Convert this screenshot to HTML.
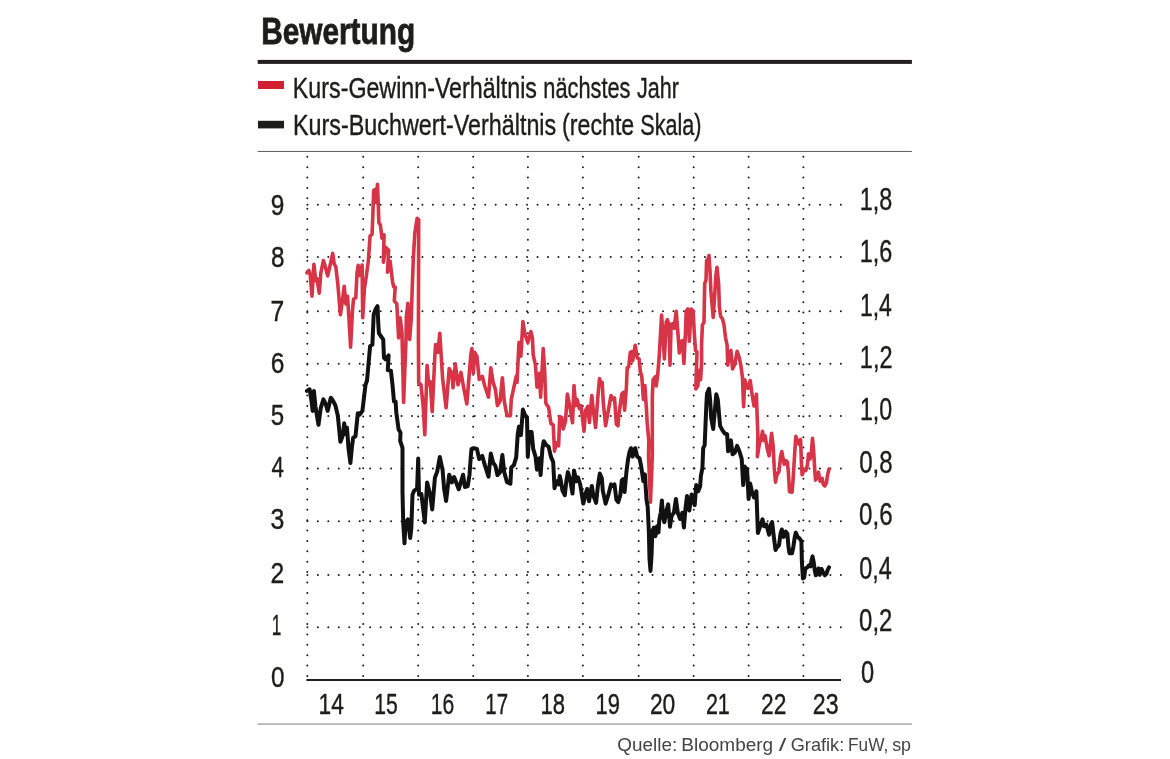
<!DOCTYPE html>
<html lang="de"><head><meta charset="utf-8"><title>Bewertung</title>
<style>html,body{margin:0;padding:0;background:#fff}body{width:1170px;height:759px;overflow:hidden}svg{display:block}text{font-family:"Liberation Sans",sans-serif}</style></head><body>
<svg width="1170" height="759" viewBox="0 0 1170 759">
<rect width="1170" height="759" fill="#fff"/>
<text x="261.18" y="43.70" font-size="37" font-weight="700" fill="#1d1d1b" textLength="153.93" lengthAdjust="spacingAndGlyphs" stroke="#1d1d1b" stroke-width="0.8">Bewertung</text>
<rect x="257.7" y="59.9" width="654.2" height="4" fill="#231f20"/>
<rect x="258" y="81" width="26" height="8" fill="#d22030"/>
<rect x="258" y="120.8" width="26" height="7.6" fill="#1d1d1b"/>
<text x="292.87" y="97.70" font-size="29.5" fill="#1d1d1b" textLength="244.09" lengthAdjust="spacingAndGlyphs" stroke="#1d1d1b" stroke-width="0.4">Kurs-Gewinn-Verhältnis</text>
<text x="543.34" y="97.70" font-size="29.5" fill="#1d1d1b" textLength="87.15" lengthAdjust="spacingAndGlyphs" stroke="#1d1d1b" stroke-width="0.4">nächstes</text>
<text x="636.92" y="97.70" font-size="29.5" fill="#1d1d1b" textLength="41.89" lengthAdjust="spacingAndGlyphs" stroke="#1d1d1b" stroke-width="0.4">Jahr</text>
<text x="293.05" y="135.40" font-size="29.5" fill="#1d1d1b" textLength="263.16" lengthAdjust="spacingAndGlyphs" stroke="#1d1d1b" stroke-width="0.4">Kurs-Buchwert-Verhältnis</text>
<text x="562.07" y="135.40" font-size="29.5" fill="#1d1d1b" textLength="72.19" lengthAdjust="spacingAndGlyphs" stroke="#1d1d1b" stroke-width="0.4">(rechte</text>
<text x="640.21" y="135.40" font-size="29.5" fill="#1d1d1b" textLength="61.35" lengthAdjust="spacingAndGlyphs" stroke="#1d1d1b" stroke-width="0.4">Skala)</text>
<rect x="257.7" y="150.95" width="654.2" height="0.9" fill="#4a4a4a"/>
<path d="M307.30 156.8V676.5" stroke="#1d1d1b" stroke-width="2.0" stroke-linecap="round" fill="none" stroke-dasharray="0 10.383"/>
<path d="M363.20 156.8V676.5" stroke="#1d1d1b" stroke-width="2.0" stroke-linecap="round" fill="none" stroke-dasharray="0 10.383"/>
<path d="M418.20 156.8V676.5" stroke="#1d1d1b" stroke-width="2.0" stroke-linecap="round" fill="none" stroke-dasharray="0 10.383"/>
<path d="M473.20 156.8V676.5" stroke="#1d1d1b" stroke-width="2.0" stroke-linecap="round" fill="none" stroke-dasharray="0 10.383"/>
<path d="M527.90 156.8V676.5" stroke="#1d1d1b" stroke-width="2.0" stroke-linecap="round" fill="none" stroke-dasharray="0 10.383"/>
<path d="M582.90 156.8V676.5" stroke="#1d1d1b" stroke-width="2.0" stroke-linecap="round" fill="none" stroke-dasharray="0 10.383"/>
<path d="M638.70 156.8V676.5" stroke="#1d1d1b" stroke-width="2.0" stroke-linecap="round" fill="none" stroke-dasharray="0 10.383"/>
<path d="M693.70 156.8V676.5" stroke="#1d1d1b" stroke-width="2.0" stroke-linecap="round" fill="none" stroke-dasharray="0 10.383"/>
<path d="M748.60 156.8V676.5" stroke="#1d1d1b" stroke-width="2.0" stroke-linecap="round" fill="none" stroke-dasharray="0 10.383"/>
<path d="M803.40 156.8V676.5" stroke="#1d1d1b" stroke-width="2.0" stroke-linecap="round" fill="none" stroke-dasharray="0 10.383"/>
<path d="M307.4 627.30H841.5" stroke="#1d1d1b" stroke-width="2.0" stroke-linecap="round" fill="none" stroke-dasharray="0 10.46"/>
<path d="M307.4 575.00H841.5" stroke="#1d1d1b" stroke-width="2.0" stroke-linecap="round" fill="none" stroke-dasharray="0 10.46"/>
<path d="M307.4 521.20H841.5" stroke="#1d1d1b" stroke-width="2.0" stroke-linecap="round" fill="none" stroke-dasharray="0 10.46"/>
<path d="M307.4 468.60H841.5" stroke="#1d1d1b" stroke-width="2.0" stroke-linecap="round" fill="none" stroke-dasharray="0 10.46"/>
<path d="M307.4 416.10H841.5" stroke="#1d1d1b" stroke-width="2.0" stroke-linecap="round" fill="none" stroke-dasharray="0 10.46"/>
<path d="M307.4 363.80H841.5" stroke="#1d1d1b" stroke-width="2.0" stroke-linecap="round" fill="none" stroke-dasharray="0 10.46"/>
<path d="M307.4 311.20H841.5" stroke="#1d1d1b" stroke-width="2.0" stroke-linecap="round" fill="none" stroke-dasharray="0 10.46"/>
<path d="M307.4 257.00H841.5" stroke="#1d1d1b" stroke-width="2.0" stroke-linecap="round" fill="none" stroke-dasharray="0 10.46"/>
<path d="M307.4 204.65H841.5" stroke="#1d1d1b" stroke-width="2.0" stroke-linecap="round" fill="none" stroke-dasharray="0 10.46"/>
<rect x="306.4" y="679" width="534.6" height="2" fill="#1d1d1b"/>
<text x="270.96" y="687.20" font-size="30" fill="#1d1d1b" textLength="13.5" lengthAdjust="spacingAndGlyphs" stroke="#1d1d1b" stroke-width="0.4">0</text>
<text x="271.66" y="634.81" font-size="30" fill="#1d1d1b" textLength="9.55" lengthAdjust="spacingAndGlyphs" stroke="#1d1d1b" stroke-width="0.4">1</text>
<text x="270.62" y="582.82" font-size="30" fill="#1d1d1b" textLength="13.72" lengthAdjust="spacingAndGlyphs" stroke="#1d1d1b" stroke-width="0.4">2</text>
<text x="270.38" y="529.33" font-size="30" fill="#1d1d1b" textLength="13.87" lengthAdjust="spacingAndGlyphs" stroke="#1d1d1b" stroke-width="0.4">3</text>
<text x="271.42" y="477.04" font-size="30" fill="#1d1d1b" textLength="12.41" lengthAdjust="spacingAndGlyphs" stroke="#1d1d1b" stroke-width="0.4">4</text>
<text x="270.66" y="424.85" font-size="30" fill="#1d1d1b" textLength="13.36" lengthAdjust="spacingAndGlyphs" stroke="#1d1d1b" stroke-width="0.4">5</text>
<text x="270.64" y="372.86" font-size="30" fill="#1d1d1b" textLength="13.62" lengthAdjust="spacingAndGlyphs" stroke="#1d1d1b" stroke-width="0.4">6</text>
<text x="270.57" y="320.57" font-size="30" fill="#1d1d1b" textLength="13.74" lengthAdjust="spacingAndGlyphs" stroke="#1d1d1b" stroke-width="0.4">7</text>
<text x="270.93" y="266.68" font-size="30" fill="#1d1d1b" textLength="13.47" lengthAdjust="spacingAndGlyphs" stroke="#1d1d1b" stroke-width="0.4">8</text>
<text x="270.71" y="214.64" font-size="30" fill="#1d1d1b" textLength="13.6" lengthAdjust="spacingAndGlyphs" stroke="#1d1d1b" stroke-width="0.4">9</text>
<text x="861.02" y="683.00" font-size="30.5" fill="#1d1d1b" textLength="13.16" lengthAdjust="spacingAndGlyphs" stroke="#1d1d1b" stroke-width="0.4">0</text>
<text x="859.11" y="630.57" font-size="30.5" fill="#1d1d1b" textLength="33.2" lengthAdjust="spacingAndGlyphs" stroke="#1d1d1b" stroke-width="0.4">0,2</text>
<text x="859.19" y="578.54" font-size="30.5" fill="#1d1d1b" textLength="32.53" lengthAdjust="spacingAndGlyphs" stroke="#1d1d1b" stroke-width="0.4">0,4</text>
<text x="859.12" y="525.01" font-size="30.5" fill="#1d1d1b" textLength="33.48" lengthAdjust="spacingAndGlyphs" stroke="#1d1d1b" stroke-width="0.4">0,6</text>
<text x="859.14" y="472.68" font-size="30.5" fill="#1d1d1b" textLength="33.48" lengthAdjust="spacingAndGlyphs" stroke="#1d1d1b" stroke-width="0.4">0,8</text>
<text x="859.89" y="420.45" font-size="30.5" fill="#1d1d1b" textLength="32.26" lengthAdjust="spacingAndGlyphs" stroke="#1d1d1b" stroke-width="0.4">1,0</text>
<text x="859.84" y="368.42" font-size="30.5" fill="#1d1d1b" textLength="32.73" lengthAdjust="spacingAndGlyphs" stroke="#1d1d1b" stroke-width="0.4">1,2</text>
<text x="859.92" y="316.09" font-size="30.5" fill="#1d1d1b" textLength="31.99" lengthAdjust="spacingAndGlyphs" stroke="#1d1d1b" stroke-width="0.4">1,4</text>
<text x="859.86" y="262.16" font-size="30.5" fill="#1d1d1b" textLength="32.52" lengthAdjust="spacingAndGlyphs" stroke="#1d1d1b" stroke-width="0.4">1,6</text>
<text x="859.86" y="210.08" font-size="30.5" fill="#1d1d1b" textLength="32.51" lengthAdjust="spacingAndGlyphs" stroke="#1d1d1b" stroke-width="0.4">1,8</text>
<text x="318.6" y="714.30" font-size="30" fill="#1d1d1b" textLength="25.27" lengthAdjust="spacingAndGlyphs" stroke="#1d1d1b" stroke-width="0.4">14</text>
<text x="374.3" y="714.30" font-size="30" fill="#1d1d1b" textLength="23.48" lengthAdjust="spacingAndGlyphs" stroke="#1d1d1b" stroke-width="0.4">15</text>
<text x="430.77" y="714.30" font-size="30" fill="#1d1d1b" textLength="23.44" lengthAdjust="spacingAndGlyphs" stroke="#1d1d1b" stroke-width="0.4">16</text>
<text x="485.29" y="714.30" font-size="30" fill="#1d1d1b" textLength="22.79" lengthAdjust="spacingAndGlyphs" stroke="#1d1d1b" stroke-width="0.4">17</text>
<text x="540.49" y="714.30" font-size="30" fill="#1d1d1b" textLength="24.51" lengthAdjust="spacingAndGlyphs" stroke="#1d1d1b" stroke-width="0.4">18</text>
<text x="595.5" y="714.30" font-size="30" fill="#1d1d1b" textLength="24.46" lengthAdjust="spacingAndGlyphs" stroke="#1d1d1b" stroke-width="0.4">19</text>
<text x="649.94" y="714.30" font-size="30" fill="#1d1d1b" textLength="25.37" lengthAdjust="spacingAndGlyphs" stroke="#1d1d1b" stroke-width="0.4">20</text>
<text x="705.88" y="714.30" font-size="30" fill="#1d1d1b" textLength="23.95" lengthAdjust="spacingAndGlyphs" stroke="#1d1d1b" stroke-width="0.4">21</text>
<text x="761.01" y="714.30" font-size="30" fill="#1d1d1b" textLength="25.32" lengthAdjust="spacingAndGlyphs" stroke="#1d1d1b" stroke-width="0.4">22</text>
<text x="812.79" y="714.30" font-size="30" fill="#1d1d1b" textLength="25.71" lengthAdjust="spacingAndGlyphs" stroke="#1d1d1b" stroke-width="0.4">23</text>
<path d="M306.9 272.8 L308.9 270.3 L310.2 274.7 L312.0 296.2 L313.9 264.2 L315.7 280.8 L316.9 278.5 L319.3 293.1 L320.8 273.1 L323.4 260.5 L325.4 266.9 L327.7 275.9 L330.1 265.4 L332.7 253.4 L334.2 263.9 L335.8 266.6 L337.8 283.9 L340.4 314.7 L342.4 300.9 L344.2 286.2 L345.8 303.9 L347.5 296.2 L349.0 319.4 L350.6 347.1 L352.4 311.6 L353.5 299.3 L355.8 297.8 L357.0 273.1 L358.2 265.4 L359.6 275.4 L362.1 265.1 L362.7 317.8 L364.4 288.5 L366.3 276.2 L368.3 261.3 L370.1 235.9 L372.1 234.3 L372.9 213.5 L373.7 190.4 L375.5 189.2 L376.6 202.7 L377.5 184.2 L378.3 205.8 L378.9 222.8 L380.4 225.1 L382.0 238.2 L384.1 234.8 L383.4 262.1 L385.7 247.4 L388.6 250.2 L387.5 272.1 L390.1 261.3 L392.5 281.3 L393.7 287.0 L395.2 287.0 L394.3 300.9 L396.8 303.9 L398.6 337.8 L400.2 317.8 L402.0 333.2 L403.6 402.4 L406.0 340.0 L406.3 317.8 L407.9 303.2 L409.7 339.4 L411.3 317.8 L412.2 288.5 L413.3 259.2 L414.8 233.6 L417.1 218.2 L418.7 219.7 L418.4 340.0 L418.7 383.1 L421.0 384.7 L423.3 407.8 L424.8 434.8 L427.1 365.4 L428.7 384.7 L430.2 381.6 L432.2 411.7 L434.9 355.4 L435.6 344.6 L437.9 352.3 L439.8 333.2 L442.6 378.5 L446.1 407.8 L449.2 368.5 L451.8 373.1 L453.0 387.8 L455.3 363.9 L458.0 384.7 L461.0 372.4 L463.4 386.2 L466.8 404.0 L469.5 370.8 L470.8 354.7 L471.9 348.5 L473.4 373.2 L474.6 352.4 L476.9 356.2 L479.2 379.4 L482.3 376.3 L484.6 385.5 L488.5 397.1 L490.8 367.8 L493.1 382.4 L495.4 389.4 L497.4 405.6 L500.1 400.9 L502.4 377.8 L504.2 400.9 L507.0 415.6 L510.4 415.6 L511.3 399.4 L513.9 387.1 L516.2 376.3 L517.0 382.4 L519.0 342.4 L520.9 356.2 L522.9 321.6 L524.7 333.1 L527.8 342.4 L530.9 331.6 L532.4 337.7 L533.2 354.7 L535.5 365.5 L537.0 387.1 L539.4 373.2 L540.6 397.1 L543.2 348.5 L544.7 371.6 L545.8 402.5 L546.3 404.2 L548.6 407.3 L550.9 423.5 L553.2 425.1 L554.5 451.2 L556.3 442.8 L558.6 445.9 L559.7 416.6 L561.7 417.4 L563.2 428.9 L565.5 421.2 L567.4 394.0 L570.2 408.6 L572.5 422.7 L574.0 385.5 L575.6 405.6 L577.1 399.4 L579.4 408.6 L581.0 405.6 L584.0 431.2 L585.6 410.4 L587.9 406.3 L589.4 422.5 L591.8 395.5 L593.3 410.2 L595.6 427.4 L597.9 396.3 L599.5 378.6 L601.0 384.0 L602.2 382.4 L603.3 402.5 L605.6 425.8 L608.7 408.6 L611.0 395.5 L612.5 399.4 L614.5 397.8 L616.4 424.3 L618.0 425.8 L618.7 416.3 L621.8 394.0 L623.3 392.4 L624.6 410.2 L626.4 387.1 L627.2 367.8 L628.7 367.0 L630.3 352.4 L631.8 351.6 L632.6 360.9 L635.2 345.4 L637.2 357.8 L639.2 359.3 L640.3 371.6 L641.8 376.3 L643.4 399.4 L644.9 385.5 L646.5 410.2 L647.2 422.7 L648.8 441.2 L648.5 455.8 L650.5 502.1 L652.3 455.8 L652.3 396.6 L653.1 379.7 L655.4 376.6 L656.2 385.9 L657.7 375.1 L659.3 355.0 L661.6 315.1 L663.1 337.5 L664.4 359.0 L666.2 322.1 L667.4 319.7 L669.0 325.1 L670.0 365.1 L671.1 325.1 L672.4 323.6 L674.2 328.2 L676.2 311.3 L677.8 331.3 L679.3 352.9 L680.4 342.1 L682.4 340.6 L683.9 363.5 L685.5 331.3 L686.2 311.3 L687.8 309.0 L689.3 341.3 L691.2 309.0 L693.2 311.3 L694.2 331.3 L695.5 350.4 L697.0 351.9 L695.8 388.9 L697.8 385.9 L699.3 370.4 L700.6 379.7 L701.6 362.7 L701.6 343.6 L702.4 325.1 L704.0 322.1 L704.7 283.5 L706.0 280.4 L706.6 260.4 L707.8 259.6 L709.0 255.5 L710.1 272.7 L710.9 291.2 L713.2 317.4 L714.7 295.9 L715.8 275.8 L717.0 267.4 L718.6 283.5 L719.4 306.6 L720.5 315.9 L722.5 319.0 L724.0 325.1 L725.5 337.5 L727.1 345.2 L727.8 365.1 L729.4 351.9 L730.9 350.4 L732.5 368.9 L734.8 364.3 L737.1 351.2 L739.4 358.1 L740.9 365.8 L742.5 378.1 L743.6 406.7 L744.8 379.7 L746.3 385.9 L747.9 388.2 L750.2 380.5 L751.7 392.0 L754.0 405.9 L756.4 394.3 L757.1 415.1 L757.9 435.2 L757.4 456.6 L759.4 443.5 L761.0 440.4 L762.5 431.2 L764.1 440.4 L765.1 435.8 L767.1 448.1 L769.1 455.8 L771.6 433.2 L773.2 446.4 L774.2 467.4 L775.5 482.2 L776.9 474.8 L779.0 471.6 L780.5 456.9 L781.8 451.6 L783.2 459.0 L784.2 464.3 L785.8 460.6 L787.4 462.1 L788.4 472.7 L789.5 491.7 L792.1 492.2 L793.2 478.0 L794.8 451.6 L795.8 436.3 L797.6 441.1 L799.0 444.2 L800.6 439.5 L801.4 462.1 L802.1 474.8 L804.2 469.5 L805.8 470.6 L807.4 465.3 L808.5 453.7 L810.0 459.0 L811.1 455.8 L812.5 438.4 L813.7 451.6 L814.8 470.6 L815.5 480.1 L816.9 478.0 L818.5 472.2 L820.1 481.1 L822.2 478.5 L823.2 484.3 L824.8 485.9 L826.4 483.2 L827.4 475.9 L829.0 469.0" fill="none" stroke="#d83447" stroke-width="3.6" stroke-linejoin="round" stroke-linecap="round"/>
<path d="M306.9 390.9 L309.6 389.3 L311.6 401.6 L312.6 410.9 L313.9 390.9 L315.4 406.3 L318.5 424.8 L320.8 407.8 L323.4 399.3 L325.4 403.2 L327.7 410.9 L330.8 397.8 L333.1 400.9 L335.4 405.5 L337.8 415.5 L340.4 441.7 L342.8 435.6 L344.2 423.2 L345.8 434.0 L347.0 427.8 L348.5 448.5 L350.4 463.1 L352.1 445.4 L353.2 437.7 L355.5 436.2 L357.8 413.2 L360.1 414.0 L362.4 410.9 L365.5 384.7 L367.0 380.8 L368.6 363.1 L370.1 346.2 L372.4 344.6 L373.7 314.7 L375.5 309.3 L377.5 306.2 L378.3 324.0 L378.9 333.2 L380.9 336.3 L383.2 339.4 L384.0 357.9 L385.5 359.3 L388.6 355.4 L387.8 370.1 L390.9 370.8 L392.5 384.7 L394.0 401.6 L395.6 401.6 L396.3 412.4 L398.6 429.4 L400.5 432.5 L400.2 440.9 L402.5 447.9 L402.5 491.6 L403.2 522.5 L404.5 543.3 L405.6 522.5 L407.9 519.4 L410.2 537.9 L411.3 528.6 L412.5 494.7 L414.0 490.9 L417.1 488.6 L418.2 458.5 L419.0 494.7 L421.4 494.0 L423.3 510.1 L424.8 522.5 L427.1 482.4 L430.2 494.7 L432.2 509.4 L434.9 477.8 L437.2 471.6 L439.8 457.0 L442.6 470.1 L444.1 488.6 L446.1 500.9 L449.2 474.7 L451.8 482.4 L454.1 477.0 L458.7 489.3 L463.1 474.7 L464.9 487.0 L467.7 486.2 L469.5 474.7 L470.8 456.6 L471.5 448.9 L473.9 448.2 L476.9 448.9 L479.2 459.0 L482.3 455.9 L484.6 464.4 L488.5 476.7 L490.8 453.6 L493.1 462.8 L495.4 465.9 L497.4 475.1 L500.1 472.1 L502.4 455.1 L504.2 472.1 L507.0 482.1 L510.4 483.6 L511.3 467.4 L513.9 465.1 L516.2 457.4 L517.8 433.5 L519.0 426.6 L520.9 435.1 L522.9 409.6 L524.7 414.3 L527.0 418.1 L527.8 456.6 L529.3 432.0 L531.6 432.0 L533.2 448.9 L535.5 456.6 L537.0 469.7 L539.4 458.2 L540.6 475.1 L542.4 448.9 L543.7 441.2 L546.3 445.1 L548.6 446.6 L550.9 456.6 L553.2 462.0 L554.5 488.2 L556.3 481.3 L558.6 484.4 L559.7 475.9 L560.9 481.3 L562.5 490.6 L564.8 495.2 L566.3 481.3 L567.9 472.1 L570.2 479.8 L572.5 493.6 L574.0 470.5 L576.3 481.3 L577.9 477.4 L580.2 484.4 L581.7 493.6 L583.3 503.6 L585.6 493.6 L587.1 489.0 L589.0 501.3 L591.8 485.9 L593.3 495.2 L596.1 502.9 L597.9 485.9 L599.8 473.6 L601.8 478.2 L602.8 490.6 L605.6 503.6 L608.7 493.6 L611.0 484.4 L612.5 485.9 L614.5 484.4 L616.4 499.8 L618.2 502.1 L620.3 495.2 L621.8 480.5 L623.3 479.0 L624.6 492.1 L626.4 472.1 L628.0 459.7 L629.5 452.0 L631.0 448.2 L632.6 456.6 L635.2 448.2 L637.2 456.6 L639.5 458.2 L641.1 465.9 L643.4 481.3 L644.9 474.4 L646.5 499.8 L647.7 506.7 L648.9 532.9 L649.5 558.6 L650.5 570.9 L651.6 553.9 L652.3 530.8 L653.9 527.7 L655.4 536.2 L657.0 526.2 L658.5 532.4 L659.3 520.0 L660.8 512.3 L661.9 500.5 L663.1 517.5 L664.4 522.1 L666.2 511.3 L668.2 504.4 L670.0 526.7 L671.6 515.9 L673.9 512.8 L675.9 499.0 L677.8 512.8 L680.1 519.0 L682.4 512.8 L683.9 527.5 L685.5 508.2 L687.0 495.9 L689.3 510.5 L691.6 494.4 L694.7 505.1 L696.2 485.1 L698.2 491.3 L700.1 486.6 L700.9 475.9 L702.4 468.1 L703.2 448.1 L704.7 445.0 L705.5 425.0 L706.3 405.9 L707.0 393.6 L709.0 388.9 L710.1 399.7 L711.2 418.2 L713.2 429.0 L714.7 412.1 L716.3 394.3 L717.8 399.7 L718.9 412.1 L720.1 425.9 L722.5 430.4 L724.8 433.5 L727.1 434.2 L728.1 451.2 L730.9 440.4 L732.5 454.3 L734.8 452.7 L737.1 445.8 L739.4 451.2 L741.7 458.9 L743.2 485.1 L744.8 466.6 L747.1 469.7 L748.6 499.0 L750.2 483.6 L752.2 492.8 L754.0 497.4 L756.4 491.3 L757.1 511.3 L757.9 532.9 L757.9 533.1 L760.2 526.2 L762.5 519.3 L764.1 526.2 L766.4 524.7 L769.1 534.7 L771.0 524.2 L772.1 522.1 L773.7 535.8 L775.5 550.0 L776.9 547.4 L779.0 545.3 L780.5 533.7 L781.8 529.5 L783.7 536.9 L785.8 531.6 L787.4 533.7 L788.4 546.4 L789.5 553.2 L792.1 553.2 L793.4 546.4 L794.8 536.9 L795.8 532.6 L797.6 536.9 L799.5 538.4 L801.4 541.1 L801.9 562.1 L802.9 578.5 L804.2 577.4 L805.3 568.5 L807.4 567.4 L809.0 565.3 L810.6 566.4 L811.6 560.0 L812.5 556.4 L813.7 562.1 L814.8 570.6 L815.8 575.3 L816.9 573.8 L818.5 568.5 L819.7 574.8 L821.6 569.0 L823.2 572.7 L824.8 575.3 L826.4 573.8 L827.4 570.6 L829.0 567.4" fill="none" stroke="#111" stroke-width="4.0" stroke-linejoin="round" stroke-linecap="round"/>
<rect x="257.7" y="723.5" width="654.2" height="1.1" fill="#8a8a8a"/>
<text x="617.37" y="750.70" font-size="18.6" fill="#444" textLength="59.92" lengthAdjust="spacingAndGlyphs">Quelle:</text>
<text x="681.39" y="750.70" font-size="18.6" fill="#444" textLength="91.8" lengthAdjust="spacingAndGlyphs">Bloomberg</text>
<text x="778.7" y="750.70" font-size="18.6" fill="#444" textLength="7.56" lengthAdjust="spacingAndGlyphs">/</text>
<text x="790.73" y="750.70" font-size="18.6" fill="#444" textLength="53.46" lengthAdjust="spacingAndGlyphs">Grafik:</text>
<text x="848.04" y="750.70" font-size="18.6" fill="#444" textLength="40.21" lengthAdjust="spacingAndGlyphs">FuW,</text>
<text x="892.21" y="750.70" font-size="18.6" fill="#444" textLength="18.84" lengthAdjust="spacingAndGlyphs">sp</text>
</svg></body></html>
